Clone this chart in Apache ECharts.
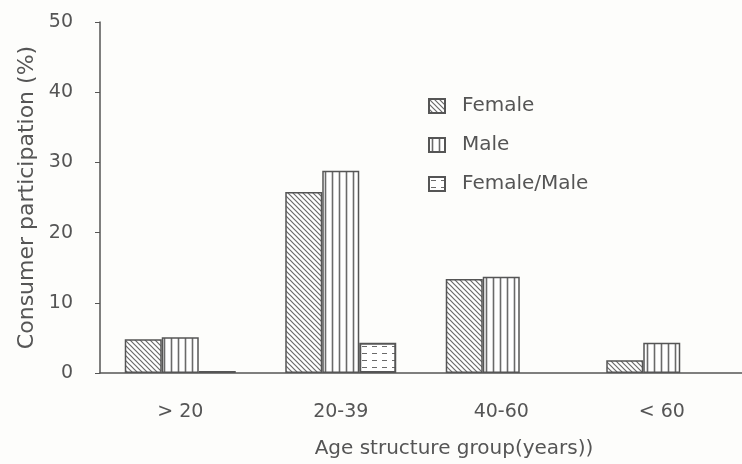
<!DOCTYPE html>
<html>
<head>
<meta charset="utf-8">
<script src="https://cdn.jsdelivr.net/npm/echarts@6/dist/echarts.min.js"></script>
<style>
  html, body { margin: 0; padding: 0; background: #fdfdfb; }
  #chart { width: 742px; height: 464px; }
</style>
</head>
<body>
<div id="chart"></div>
<script>
var categories = ['> 20', '20-39', '40-60', '< 60'];
var femaleValues = [4.8, 25.8, 13.4, 1.8];
var maleValues = [5.1, 28.8, 13.7, 4.3];
var ratioValues = [0.3, 4.3, null, null];
var yTicks = [0, 10, 20, 30, 40, 50];

var ink = '#555';

// hatch patterns drawn on small canvases
function makePattern(w, h, draw) {
  var c = document.createElement('canvas');
  c.width = w;
  c.height = h;
  var ctx = c.getContext('2d');
  ctx.fillStyle = '#fff';
  ctx.fillRect(0, 0, w, h);
  ctx.strokeStyle = '#6a6a6a';
  draw(ctx);
  return { image: c, repeat: 'repeat' };
}

var diagPattern = makePattern(5, 5, function (ctx) {
  ctx.lineWidth = 1.2;
  ctx.beginPath();
  ctx.moveTo(-1, -1); ctx.lineTo(6, 6);
  ctx.moveTo(-1, 4); ctx.lineTo(1, 6);
  ctx.moveTo(4, -1); ctx.lineTo(6, 1);
  ctx.stroke();
});

var vertPattern = makePattern(7, 4, function (ctx) {
  ctx.lineWidth = 1.6;
  ctx.beginPath();
  ctx.moveTo(3.5, 0); ctx.lineTo(3.5, 4);
  ctx.stroke();
});

var dashPattern = makePattern(10, 7, function (ctx) {
  ctx.lineWidth = 1;
  ctx.beginPath();
  ctx.moveTo(2, 3.5); ctx.lineTo(7, 3.5);
  ctx.stroke();
});

var chart = echarts.init(document.getElementById('chart'));

var option = {
  backgroundColor: '#fdfdfb',
  textStyle: { fontFamily: 'DejaVu Sans', color: ink },
  legend: {
    orient: 'vertical',
    left: 423,
    top: 91,
    icon: 'rect',
    itemWidth: 16,
    itemHeight: 14,
    itemGap: 19,
    textStyle: { fontSize: 20, color: ink, fontFamily: 'DejaVu Sans', padding: [0, 0, 0, 12] },
    data: ['Female', 'Male', 'Female/Male']
  },
  grid: { left: 100, right: 0, top: 22, bottom: 91 },
  xAxis: {
    type: 'category',
    data: categories,
    name: 'Age structure group(years))',
    nameLocation: 'middle',
    nameGap: 66,
    nameTextStyle: { fontSize: 20, color: ink, padding: [0, 0, 0, 66] },
    axisLine: { lineStyle: { color: ink, width: 1.5 } },
    axisTick: { length: 6, lineStyle: { color: ink } },
    axisLabel: { fontSize: 19, color: ink, margin: 30 }
  },
  yAxis: {
    type: 'value',
    min: yTicks[0],
    max: yTicks[yTicks.length - 1],
    interval: 10,
    name: 'Consumer participation (%)',
    nameLocation: 'middle',
    nameGap: 62,
    nameTextStyle: { fontSize: 22, color: ink },
    axisLine: { show: true, lineStyle: { color: ink, width: 1.5 } },
    axisTick: { show: true, length: 5, lineStyle: { color: ink } },
    axisLabel: { fontSize: 19, color: ink, margin: 27 },
    splitLine: { show: false }
  },
  series: [
    {
      name: 'Female',
      type: 'bar',
      data: femaleValues,
      barWidth: 37,
      barGap: '0%',
      itemStyle: { color: diagPattern, borderColor: ink, borderWidth: 1.5 }
    },
    {
      name: 'Male',
      type: 'bar',
      data: maleValues,
      barWidth: 37,
      barGap: '0%',
      itemStyle: { color: vertPattern, borderColor: ink, borderWidth: 1.5 }
    },
    {
      name: 'Female/Male',
      type: 'bar',
      data: ratioValues,
      barWidth: 37,
      barGap: '0%',
      itemStyle: { color: dashPattern, borderColor: ink, borderWidth: 2 }
    }
  ]
};

chart.setOption(option);
</script>
</body>
</html>
